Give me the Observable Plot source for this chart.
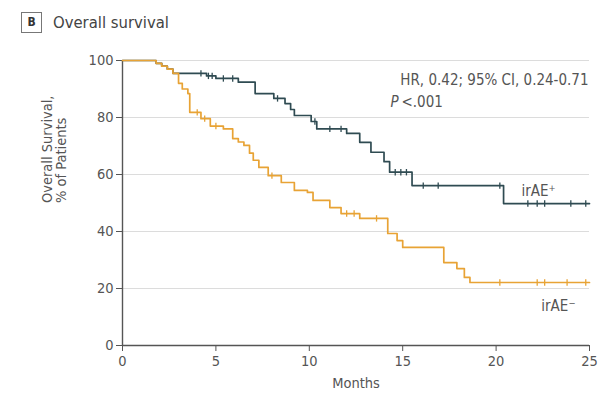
<!DOCTYPE html>
<html>
<head>
<meta charset="utf-8">
<script src="https://cdn.jsdelivr.net/npm/d3@7"></script>
<script src="https://cdn.jsdelivr.net/npm/@observablehq/plot@0.6"></script>
<style>
  html, body { margin: 0; padding: 0; background: #fff; }
  body { width: 611px; height: 396px; overflow: hidden; font-family: "DejaVu Sans Condensed", "Liberation Sans", sans-serif; }
  #head { height: 40px; position: relative; }
  #box { position: absolute; left: 21px; top: 12px; width: 19px; height: 19px; border: 1.5px solid #777; font-size: 12px; font-weight: bold; color: #333; text-align: center; line-height: 19px; }
  #ttl { position: absolute; left: 53px; top: 12px; font-size: 16.5px; color: #444; line-height: 22px; }
</style>
</head>
<body>
<div id="head"><div id="box">B</div><div id="ttl">Overall survival</div></div>
<div id="chart"></div>
<script>
// Kaplan–Meier step data (months, % surviving after the step)
const posTimes = [0, 1.8, 2.1, 2.4, 2.7, 4.5, 5.0, 6.2, 7.1, 8.1, 8.7, 9.0, 9.2, 10.1, 10.4, 12.0, 12.7, 13.3, 14.0, 14.3, 15.5, 20.4, 25];
const posSurv  = [100, 99, 98, 97, 95.5, 94.6, 93.7, 92.4, 88.4, 86.7, 84.9, 82.8, 80.7, 78.6, 76, 74.4, 71.3, 67.8, 64.5, 60.8, 56.1, 49.8, 49.8];
const posCensor = [4.2, 4.6, 4.8, 5.4, 5.9, 8.3, 10.3, 11.1, 11.7, 14.6, 14.9, 15.2, 16.1, 16.9, 20.2, 21.7, 22.2, 22.6, 24.0, 24.8];

const negTimes = [0, 1.8, 2.1, 2.4, 2.7, 3.0, 3.2, 3.5, 3.6, 4.2, 4.7, 5.4, 5.9, 6.2, 6.5, 6.8, 7.0, 7.3, 7.8, 8.5, 9.2, 9.9, 10.2, 11.1, 11.7, 12.7, 14.2, 14.7, 15.0, 17.2, 17.9, 18.3, 18.6, 25];
const negSurv  = [100, 99, 98, 97, 95.5, 92, 90, 88.4, 81.8, 79.6, 77, 76, 72.6, 71.4, 70.2, 67.5, 65, 62.5, 59.6, 57.2, 54.4, 53.7, 50.9, 48.4, 46.3, 44.6, 39.3, 36.8, 34.4, 29.1, 27, 23.9, 22.1, 22.1];
const negCensor = [4.0, 4.4, 5.0, 8.0, 12.0, 12.4, 13.6, 20.2, 22.2, 22.6, 23.8, 24.8];

const groups = ["irAE+", "irAE−"];
const groupLabels = ["irAE⁺", "irAE⁻"];
const colors = ["#2f4b52", "#e8a335"];
const xTicks = [0, 5, 10, 15, 20, 25];
const yTicks = [0, 20, 40, 60, 80, 100];

const curves = [];
posTimes.forEach((t, i) => curves.push({group: groups[0], t, s: posSurv[i]}));
negTimes.forEach((t, i) => curves.push({group: groups[1], t, s: negSurv[i]}));

function survAt(times, surv, t) {
  let s = surv[0];
  for (let i = 0; i < times.length; i++) if (times[i] <= t) s = surv[i];
  return s;
}
const censors = [];
posCensor.forEach(t => censors.push({group: groups[0], t, s: survAt(posTimes, posSurv, t)}));
negCensor.forEach(t => censors.push({group: groups[1], t, s: survAt(negTimes, negSurv, t)}));

const vtick = { draw(ctx, size) { const r = Math.sqrt(size / Math.PI); ctx.moveTo(0, -r); ctx.lineTo(0, r); } };

const font = '"DejaVu Sans Condensed", "Liberation Sans", sans-serif';

const chart = Plot.plot({
  width: 611,
  height: 356,
  marginLeft: 122,
  marginRight: 22,
  marginTop: 20,
  marginBottom: 51,
  style: { fontFamily: font, fontSize: "14.5px", color: "#555", background: "#fff" },
  x: { domain: [0, 25] },
  y: { domain: [0, 100] },
  color: { domain: groups, range: colors },
  marks: [
    Plot.gridY(yTicks.filter(d => d > 0), { stroke: "#dcdcdc", strokeOpacity: 1, strokeWidth: 1 }),
    Plot.axisY({ ticks: yTicks, tickSize: 6, tickPadding: 3, label: null, stroke: "#555" }),
    Plot.axisX({ ticks: xTicks, tickSize: 6, tickPadding: 4, label: "Months", labelAnchor: "center", labelArrow: "none", labelOffset: 42, stroke: "#555" }),
    Plot.ruleX([0], { stroke: "#555", strokeWidth: 1.4 }),
    Plot.ruleY([0], { stroke: "#555", strokeWidth: 1.4 }),
    Plot.line(curves, { x: "t", y: "s", z: "group", stroke: "group", curve: "step-after", strokeWidth: 1.7 }),
    Plot.dot(censors, { x: "t", y: "s", stroke: "group", symbol: vtick, r: 3.2, strokeWidth: 1.3 }),
    Plot.text(["Overall Survival,\n% of Patients"], { frameAnchor: "left", dx: -68, rotate: -90, fontSize: 14.5, fill: "#555", lineHeight: 1.0 }),
    Plot.text(["HR, 0.42; 95% CI, 0.24-0.71"], { frameAnchor: "top-right", dx: -1, dy: 14, textAnchor: "end", fontSize: 15, fill: "#555" }),
    Plot.text(["P"], { frameAnchor: "top-left", dx: 268, dy: 36, textAnchor: "start", fontSize: 15, fontStyle: "italic", fill: "#555" }),
    Plot.text(["<.001"], { frameAnchor: "top-left", dx: 279, dy: 36, textAnchor: "start", fontSize: 15, fill: "#555" }),
    Plot.text([groupLabels[0]], { frameAnchor: "top-right", dx: -68, dy: 125, textAnchor: "start", fontSize: 15, fill: "#555" }),
    Plot.text([groupLabels[1]], { frameAnchor: "top-right", dx: -14, dy: 240, textAnchor: "end", fontSize: 15, fill: "#555" })
  ]
});
document.getElementById("chart").appendChild(chart);
</script>
</body>
</html>
